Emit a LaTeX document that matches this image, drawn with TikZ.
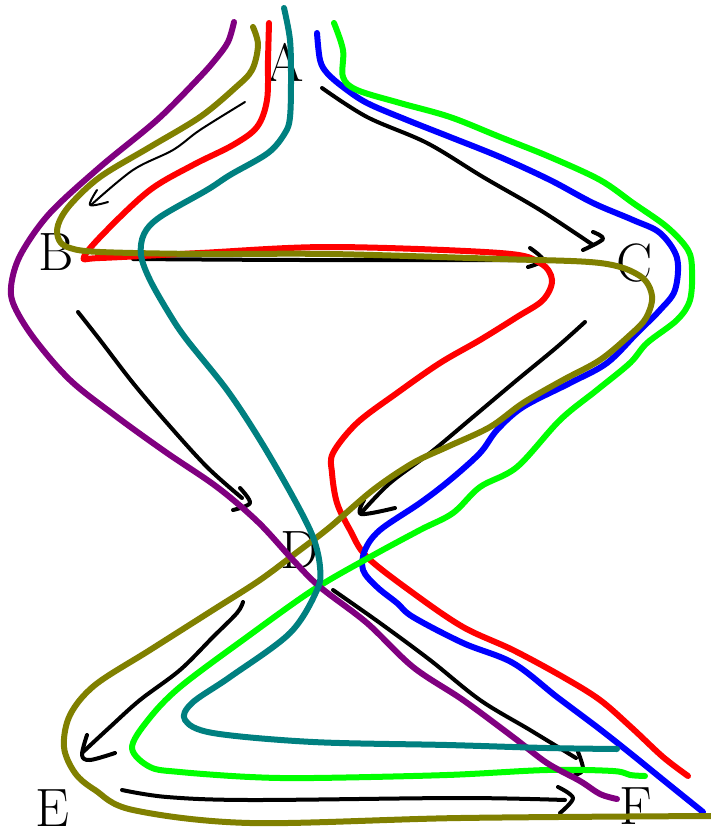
\documentclass[tikz,border=0pt]{standalone}
\usepackage{fontspec}
\definecolor{cpurple}{RGB}{128,0,128}
\definecolor{colive}{RGB}{128,128,0}
\definecolor{cred}{RGB}{255,0,0}
\definecolor{cteal}{RGB}{0,128,128}
\definecolor{cblue}{RGB}{0,0,255}
\definecolor{cgreen}{RGB}{0,255,0}
\tikzset{
  colline/.style={line width=6pt, line cap=round, line join=round},
  arrline/.style={line width=4pt, black, line cap=round, line join=round},
  thinline/.style={line width=2pt, black, line cap=round, line join=round},
  lbl/.style={font=\fontsize{54}{54}\selectfont, inner sep=0pt, text=black},
  sm/.style={smooth, tension=0.55}
}
\begin{document}
\begin{tikzpicture}[x=1pt,y=-1pt]
\useasboundingbox (0,0) rectangle (711,837);
% labels
\node[lbl] (A) at (285,62) {A};
\node[lbl] (B) at (56,252) {B};
\node[lbl] (C) at (635,263) {C};
\node[lbl] (D) at (300,550) {D};
\node[lbl] (E) at (52,808) {E};
\node[lbl] (F) at (636,806) {F};
% black arrows
\draw[thinline] plot[sm] coordinates {(245,102) (200,130) (173,150) (133,170) (91,205)};
\draw[thinline] plot[sm] coordinates {(97,190) (90,205) (108,202)};
\draw[arrline] plot[sm] coordinates {(322,88) (367,117) (427,143) (483,177) (540,210) (593,245)};
\draw[arrline] plot[sm] coordinates {(593,232) (603,239) (583,250)};
\draw[arrline] plot[sm] coordinates {(133,259) (300,260) (540,260)};
\draw[arrline] plot[sm] coordinates {(530,248) (543,260) (528,267)};
\draw[arrline] plot[sm] coordinates {(78,312) (100,340) (133,383) (167,423) (207,467) (242,498)};
\draw[arrline] plot[sm] coordinates {(240,488) (250,503) (233,510)};
\draw[arrline] plot[sm] coordinates {(585,322) (557,347) (517,380) (473,417) (430,453) (390,483) (362,512)};
\draw[arrline] plot[sm] coordinates {(364,500) (361,514) (395,508)};
\draw[arrline] plot[sm] coordinates {(243,602) (237,613) (213,637) (180,670) (140,700) (110,727) (83,752)};
\draw[arrline] plot[sm] coordinates {(87,735) (82,755) (90,760) (115,753)};
\draw[arrline] plot[sm] coordinates {(333,590) (380,623) (430,660) (480,700) (530,730) (576,758)};
\draw[arrline] plot[sm] coordinates {(578,752) (583,770) (572,776)};
\draw[arrline] plot[sm] coordinates {(122,790) (167,797) (250,800) (460,798) (565,800)};
\draw[arrline] plot[sm] coordinates {(558,787) (573,798) (560,813)};
% coloured curves
\draw[colline, cred] plot[sm] coordinates {(269,23) (268,60) (267,100) (257,127) (233,145) (193,165) (150,190) (107,230) (84,257) (100,258) (200,253) (330,247) (500,253) (540,263) (552,280) (543,300) (517,317) (480,340) (440,363) (397,393) (357,423) (333,453) (332,473) (337,503) (350,530) (367,557) (413,593) (463,627) (513,650) (563,677) (600,700) (632,728) (663,757) (688,776)};
\draw[colline, cblue] plot[sm] coordinates {(317,33) (320,60) (327,73) (343,87) (367,103) (407,120) (450,137) (500,157) (550,180) (593,203) (633,220) (660,233) (677,258) (675,290) (660,310) (637,333) (607,363) (570,383) (523,407) (497,430) (480,453) (450,480) (420,503) (380,530) (365,550) (363,570) (377,587) (397,603) (413,617) (463,643) (513,663) (557,697) (597,727) (630,753) (667,783) (703,812)};
\draw[colline, cgreen] plot[sm] coordinates {(334,23) (343,50) (343,77) (357,90) (400,103) (450,117) (500,137) (550,157) (600,180) (633,203) (667,227) (688,250) (692,270) (690,300) (677,320) (647,343) (630,363) (597,390) (560,420) (517,467) (480,487) (453,513) (420,530) (370,557) (313,590) (247,637) (180,687) (148,720) (132,748) (150,767) (180,772) (250,777) (313,778) (447,775) (547,770) (613,771) (630,775) (645,776)};
\draw[colline, colive] plot[sm] coordinates {(253,27) (258,45) (252,70) (235,88) (200,117) (150,147) (100,177) (70,205) (58,225) (59,240) (70,248) (100,252) (200,254) (330,254) (500,259) (600,263) (640,276) (652,296) (646,318) (630,335) (600,360) (563,380) (523,403) (490,427) (447,447) (413,463) (373,490) (330,527) (300,550) (260,580) (213,610) (150,650) (95,685) (70,715) (64,747) (75,773) (95,790) (133,810) (250,823) (460,818) (711,816)};
\draw[colline, cpurple] plot[sm] coordinates {(234,22) (228,42) (215,60) (197,80) (157,120) (100,167) (50,213) (22,252) (12,280) (13,303) (33,337) (70,380) (117,417) (167,453) (217,487) (258,522) (293,560) (320,587) (367,623) (413,667) (463,700) (513,737) (547,763) (580,781) (600,794) (617,799)};
\draw[colline, cteal] plot[sm] coordinates {(284,8) (290,40) (291,80) (290,117) (285,133) (268,153) (230,175) (207,190) (160,217) (144,234) (141,255) (150,280) (170,315) (187,340) (227,390) (260,440) (293,497) (313,537) (320,567) (317,590) (290,633) (230,677) (192,703) (185,720) (213,733) (313,742) (447,745) (547,748) (617,749)};
\end{tikzpicture}
\end{document}
